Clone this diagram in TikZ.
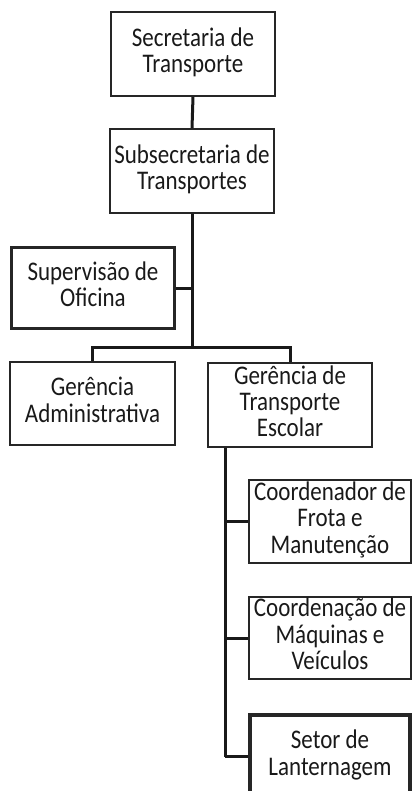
\documentclass[tikz,border=0pt]{standalone}
\usepackage{fontspec}
\setmainfont{Carlito}
\newcommand{\tx}[1]{\scalebox{1}[1.17]{\fontsize{23}{22.4}\selectfont\begin{tabular}{@{}c@{}}#1\end{tabular}}}
\begin{document}
\begin{tikzpicture}[x=1pt,y=-1pt,
  box/.style={draw=black!85,line width=1.6pt,rectangle,inner sep=0pt,align=center,
    text=black!90},
  thickbox/.style={box,line width=3.2pt},
  conn/.style={draw=black!90,line width=3pt}]
\useasboundingbox (0,0) rectangle (413,791);
\clip (0,0) rectangle (413,791);
\node[box,minimum width=164pt,minimum height=84pt] (b1) at (193,54) {\tx{Secretaria de\\Transporte}};
\node[box,minimum width=164pt,minimum height=84pt] (b2) at (192,171) {\tx{Subsecretaria de\\Transportes}};
\node[thickbox,minimum width=163pt,minimum height=81pt] (sup) at (93,288) {\tx{Supervisão de\\Oficina}};
\node[box,minimum width=165pt,minimum height=83pt] (ga) at (92.5,403.5) {\tx{Gerência\\Administrativa}};
\node[box,minimum width=164pt,minimum height=84pt] (gte) at (290,405) {\tx{Gerência de\\Transporte\\Escolar}};
\node[box,minimum width=162pt,minimum height=83pt] (c1) at (330,521.5) {\tx{Coordenador de\\Frota e\\Manutenção}};
\node[box,minimum width=162pt,minimum height=82pt] (c2) at (330,638) {\tx{Coordenação de\\Máquinas e\\Veículos}};
\node[thickbox,minimum width=160pt,minimum height=83pt] (st) at (330,756.5) {\tx{Setor de\\Lanternagem}};
\coordinate (j1) at (192,347);
\coordinate (v) at (225,0);
\draw[conn] (b1.south) -- (b2.north);
\draw[conn] (b2.south) -- (j1);
\draw[conn] (sup.east) -- (sup.east -| j1);
\draw[conn] (ga.north) |- (j1) -| (gte.north);
\draw[conn] (gte.south -| v) -- (st.west -| v);
\draw[conn] (c1.west -| v) -- (c1.west);
\draw[conn] (c2.west -| v) -- (c2.west);
\draw[conn] (st.west -| v) -- (st.west);
\end{tikzpicture}
\end{document}
